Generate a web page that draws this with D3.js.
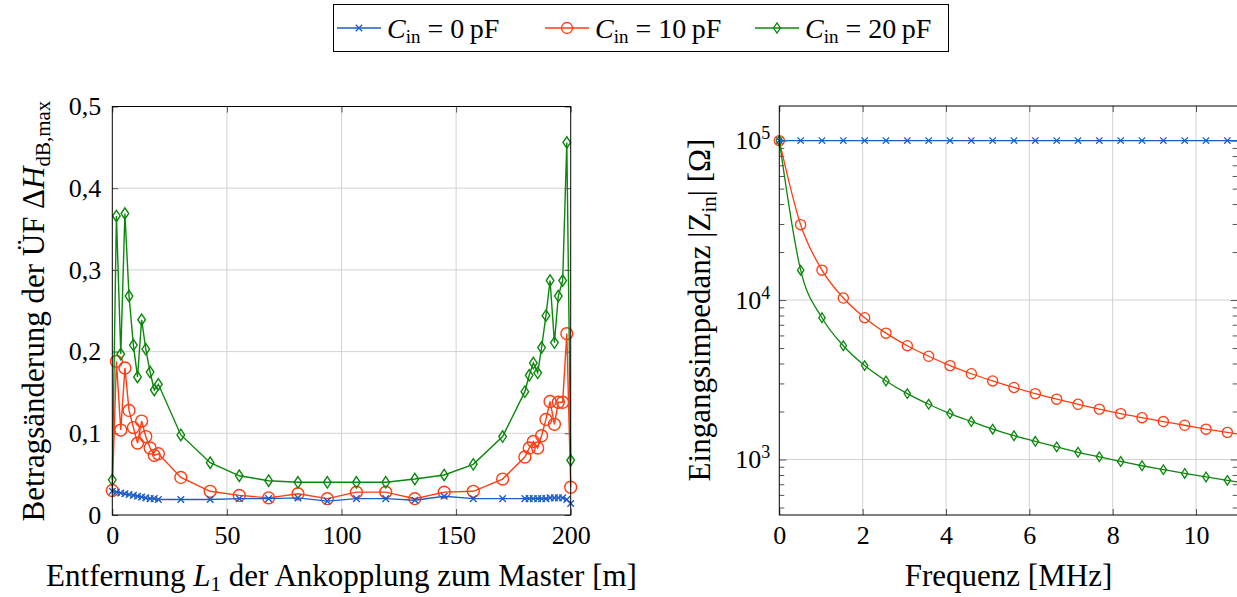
<!DOCTYPE html>
<html>
<head>
<meta charset="UTF-8">
<title>Betragsänderung und Eingangsimpedanz</title>
<style>
  body { margin: 0; background: white; }
  svg { display: block; font-family: 'Liberation Serif', 'Times New Roman', serif; }
  .grid line { stroke: #d2d2d2; stroke-width: 1; }
  .axis .tick line { stroke: #555; stroke-width: 1; }
  .axis .domain { display: none; }
  .axis text { font-family: 'Liberation Serif', serif; font-size: 26px; fill: #000; }
</style>
</head>
<body>
<script src="https://d3js.org/d3.v7.min.js"></script>
<script>
// ---- data: left chart (Entfernung L1 in m, Betragsänderung in dB)
var distance = [0, 1.8, 3.7, 5.5, 7.3, 9.2, 11.0, 12.8, 14.6, 16.5, 18.3, 20.1,
  29.9, 42.7, 55.4, 68.2, 81.0, 93.8, 106.5, 119.3, 132.0, 144.8, 157.5, 170.3,
  180.0, 181.9, 183.7, 185.6, 187.3, 189.2, 191.0, 192.9, 194.6, 196.5, 198.3, 200];
var dH0 = [0.029, 0.028, 0.027, 0.026, 0.025, 0.024, 0.023, 0.022, 0.021, 0.020, 0.020, 0.019,
  0.019, 0.019, 0.020, 0.020, 0.021, 0.017, 0.020, 0.020, 0.018, 0.023, 0.020, 0.020,
  0.020, 0.020, 0.020, 0.020, 0.020, 0.020, 0.021, 0.021, 0.021, 0.021, 0.019, 0.014];
var dH10 = [0.030, 0.188, 0.104, 0.180, 0.128, 0.107, 0.088, 0.115, 0.096, 0.082, 0.073, 0.075,
  0.046, 0.029, 0.024, 0.021, 0.026, 0.020, 0.028, 0.028, 0.020, 0.028, 0.029, 0.044,
  0.071, 0.082, 0.090, 0.082, 0.097, 0.117, 0.139, 0.111, 0.138, 0.138, 0.222, 0.034];
var dH20 = [0.043, 0.366, 0.197, 0.369, 0.268, 0.208, 0.169, 0.239, 0.203, 0.175, 0.153, 0.160,
  0.098, 0.064, 0.048, 0.042, 0.040, 0.040, 0.040, 0.040, 0.044, 0.049, 0.062, 0.096,
  0.151, 0.171, 0.186, 0.174, 0.205, 0.244, 0.287, 0.211, 0.268, 0.287, 0.456, 0.067];
var distTicks = [0, 50, 100, 150, 200];
var dHTicks = [0, 0.1, 0.2, 0.3, 0.4, 0.5];

// ---- data: right chart (Frequenz in MHz, |Zin| in Ohm)
var freq = [0, 0.512, 1.024, 1.536, 2.048, 2.56, 3.072, 3.584, 4.096, 4.608, 5.12, 5.632,
  6.144, 6.656, 7.168, 7.68, 8.192, 8.704, 9.216, 9.728, 10.24, 10.752, 11.264];
var zin0 = [100000, 100000, 100000, 100000, 100000, 100000, 100000, 100000, 100000, 100000, 100000, 100000,
  100000, 100000, 100000, 100000, 100000, 100000, 100000, 100000, 100000, 100000, 100000];
var zin10 = [100000, 29700, 15400, 10300, 7750, 6200, 5170, 4440, 3880, 3450, 3110, 2830,
  2590, 2390, 2220, 2070, 1940, 1830, 1730, 1640, 1550, 1480, 1410];
var zin20 = [100000, 15400, 7750, 5170, 3880, 3110, 2590, 2220, 1940, 1730, 1550, 1410,
  1300, 1200, 1110, 1040, 972, 914, 864, 818, 777, 740, 707];
var freqTicks = [0, 2, 4, 6, 8, 10];
var zinTicks = [1000, 10000, 100000];

var legendValues = ['0', '10', '20'];

var blue = '#1d5ec8', red = '#ff3c12', green = '#0b870b';
var titleSize = 31;

var svg = d3.select('body').append('svg').attr('width', 1237).attr('height', 597);

// marker shapes
function addMarker(sel, type, s) {
  if (type === 'x') {
    sel.append('path')
      .attr('d', 'M' + (-s) + ',' + (-s) + 'L' + s + ',' + s + 'M' + (-s) + ',' + s + 'L' + s + ',' + (-s));
  } else if (type === 'o') {
    sel.append('circle').attr('r', s * 1.45);
  } else {
    sel.append('path')
      .attr('d', 'M0,' + (-s * 1.5) + 'L' + s + ',0L0,' + (s * 1.5) + 'L' + (-s) + ',0Z');
  }
}

function drawSeries(g, xs, ys, x, y, color, type, s, curve, lw) {
  var pts = xs.map(function (d, i) { return [x(d), y(ys[i])]; });
  g.append('path')
    .attr('d', d3.line().curve(curve)(pts))
    .attr('fill', 'none').attr('stroke', color).attr('stroke-width', lw);
  g.selectAll('g.m').data(pts).enter().append('g')
    .attr('transform', function (p) { return 'translate(' + p[0] + ',' + p[1] + ')'; })
    .attr('fill', 'none').attr('stroke', color).attr('stroke-width', lw)
    .each(function () { addMarker(d3.select(this), type, s); });
}

// =================== left chart ===================
var xL = d3.scaleLinear().domain([0, 200]).range([112.3, 570.7]);
var yL = d3.scaleLinear().domain([0, 0.5]).range([515, 106.5]);
var L = svg.append('g');

L.append('g').attr('class', 'grid').selectAll('line').data(distTicks.slice(1, -1)).enter().append('line')
  .attr('x1', xL).attr('x2', xL).attr('y1', yL(0)).attr('y2', yL(0.5));
L.append('g').attr('class', 'grid').selectAll('line').data(dHTicks.slice(1, -1)).enter().append('line')
  .attr('y1', yL).attr('y2', yL).attr('x1', xL(0)).attr('x2', xL(200));

var fmtComma = function (d) { return d === 0 ? '0' : d3.format('.1f')(d).replace('.', ','); };
L.append('g').attr('class', 'axis').attr('transform', 'translate(0,' + yL(0) + ')')
  .call(d3.axisBottom(xL).tickValues(distTicks).tickSize(-6).tickPadding(11));
L.append('g').attr('class', 'axis').attr('transform', 'translate(0,' + yL(0.5) + ')')
  .call(d3.axisTop(xL).tickValues(distTicks).tickSize(-6).tickFormat(''));
L.append('g').attr('class', 'axis').attr('transform', 'translate(' + xL(0) + ',0)')
  .call(d3.axisLeft(yL).tickValues(dHTicks).tickSize(-6).tickPadding(11).tickFormat(fmtComma));
L.append('g').attr('class', 'axis').attr('transform', 'translate(' + xL(200) + ',0)')
  .call(d3.axisRight(yL).tickValues(dHTicks).tickSize(-6).tickFormat(''));

var LS = L.append('g');
drawSeries(LS, distance, dH10, xL, yL, red, 'o', 4.1, d3.curveLinear, 1.4);
drawSeries(LS, distance, dH20, xL, yL, green, 'd', 3.8, d3.curveLinear, 1.4);
drawSeries(LS, distance, dH0, xL, yL, blue, 'x', 3.3, d3.curveLinear, 1.4);

L.append('rect').attr('x', xL(0)).attr('y', yL(0.5)).attr('width', xL(200) - xL(0)).attr('height', yL(0) - yL(0.5))
  .attr('fill', 'none').attr('stroke', '#000').attr('stroke-width', 1);

var tL = L.append('text').attr('x', 341.5).attr('y', 586).attr('text-anchor', 'middle').attr('font-size', titleSize);
tL.append('tspan').text('Entfernung ');
tL.append('tspan').attr('font-style', 'italic').text('L');
tL.append('tspan').attr('font-size', 21).attr('dy', 5).text('1');
tL.append('tspan').attr('dy', -5).text(' der Ankopplung zum Master [m]');

var tLy = L.append('text').attr('transform', 'translate(44,311) rotate(-90)').attr('text-anchor', 'middle').attr('font-size', titleSize);
tLy.append('tspan').text('Betragsänderung der ÜF \u0394');
tLy.append('tspan').attr('font-style', 'italic').text('H');
tLy.append('tspan').attr('font-size', 21).attr('dy', 6).text('dB,max');

// =================== right chart ===================
var xR = d3.scaleLinear().domain([0, 11]).range([779.3, 1237.7]);
var yR = d3.scaleLog().domain([Math.pow(10, 2.652), Math.pow(10, 5.217)]).range([515, 106]);
var R = svg.append('g');

R.append('g').attr('class', 'grid').selectAll('line').data(freqTicks.slice(1)).enter().append('line')
  .attr('x1', xR).attr('x2', xR).attr('y1', 515).attr('y2', 106);
R.append('g').attr('class', 'grid').selectAll('line').data(zinTicks).enter().append('line')
  .attr('y1', yR).attr('y2', yR).attr('x1', xR(0)).attr('x2', xR(11));

var minor = yR.ticks().filter(function (d) { return Math.abs(Math.log10(d) % 1) > 1e-6; });
R.append('g').attr('class', 'axis').attr('transform', 'translate(0,515)')
  .call(d3.axisBottom(xR).tickValues(freqTicks).tickSize(-6).tickPadding(11));
R.append('g').attr('class', 'axis').attr('transform', 'translate(0,106)')
  .call(d3.axisTop(xR).tickValues(freqTicks).tickSize(-6).tickFormat(''));
R.append('g').attr('class', 'axis').attr('transform', 'translate(' + xR(0) + ',0)')
  .call(d3.axisLeft(yR).tickValues(zinTicks).tickSize(-7).tickPadding(9))
  .selectAll('.tick text').each(function (d) {
    var t = d3.select(this).text(null);
    t.append('tspan').text('10');
    t.append('tspan').attr('font-size', 18).attr('dy', -10).text(Math.round(Math.log10(d)));
  });
R.append('g').attr('class', 'axis').attr('transform', 'translate(' + xR(0) + ',0)')
  .call(d3.axisLeft(yR).tickValues(minor).tickSize(-5).tickFormat(''));
R.append('g').attr('class', 'axis').attr('transform', 'translate(' + xR(11) + ',0)')
  .call(d3.axisRight(yR).tickValues(zinTicks).tickSize(-7).tickFormat(''));
R.append('g').attr('class', 'axis').attr('transform', 'translate(' + xR(11) + ',0)')
  .call(d3.axisRight(yR).tickValues(minor).tickSize(-5).tickFormat(''));

svg.append('clipPath').attr('id', 'clipR').append('rect')
  .attr('x', xR(0) - 8).attr('y', 100).attr('width', xR(11) - xR(0) + 8).attr('height', 420);
var RS = R.append('g').attr('clip-path', 'url(#clipR)');
drawSeries(RS, freq, zin10, xR, yR, red, 'o', 3.5, d3.curveMonotoneX, 1.3);
drawSeries(RS, freq, zin20, xR, yR, green, 'd', 3.2, d3.curveMonotoneX, 1.3);
drawSeries(RS, freq, zin0, xR, yR, blue, 'x', 3.2, d3.curveLinear, 1.3);

R.append('rect').attr('x', xR(0)).attr('y', 106).attr('width', xR(11) - xR(0)).attr('height', 409)
  .attr('fill', 'none').attr('stroke', '#000').attr('stroke-width', 1);

R.append('text').attr('x', (xR(0) + xR(11)) / 2).attr('y', 586).attr('text-anchor', 'middle').attr('font-size', titleSize)
  .text('Frequenz [MHz]');
var tRy = R.append('text').attr('transform', 'translate(710,310) rotate(-90)').attr('text-anchor', 'middle').attr('font-size', titleSize);
tRy.append('tspan').text('Eingangsimpedanz |Z');
tRy.append('tspan').attr('font-size', 21).attr('dy', 6).text('in');
tRy.append('tspan').attr('dy', -6).text('| [\u03A9]');

// =================== legend ===================
var lg = svg.append('g');
lg.append('rect').attr('x', 333.5).attr('y', 4.5).attr('width', 615).attr('height', 47)
  .attr('fill', 'white').attr('stroke', '#000').attr('stroke-width', 1);
var entries = [
  {color: blue, type: 'x', s: 3.2, x: 337, v: legendValues[0]},
  {color: red, type: 'o', s: 3.8, x: 545, v: legendValues[1]},
  {color: green, type: 'd', s: 3.4, x: 755, v: legendValues[2]}
];
entries.forEach(function (e) {
  var g = lg.append('g').attr('transform', 'translate(' + e.x + ',28)');
  g.append('line').attr('x1', 0).attr('x2', 44).attr('stroke', e.color).attr('stroke-width', 1.3);
  var m = g.append('g').attr('transform', 'translate(22,0)').attr('fill', 'none')
    .attr('stroke', e.color).attr('stroke-width', 1.3);
  addMarker(m, e.type, e.s);
  var t = g.append('text').attr('x', 50).attr('y', 10).attr('font-size', 28);
  t.append('tspan').attr('font-style', 'italic').text('C');
  t.append('tspan').attr('font-size', 19).attr('dy', 5).text('in');
  t.append('tspan').attr('dy', -5).text(' = ' + e.v + '\u2009pF');
});
</script>
</body>
</html>
